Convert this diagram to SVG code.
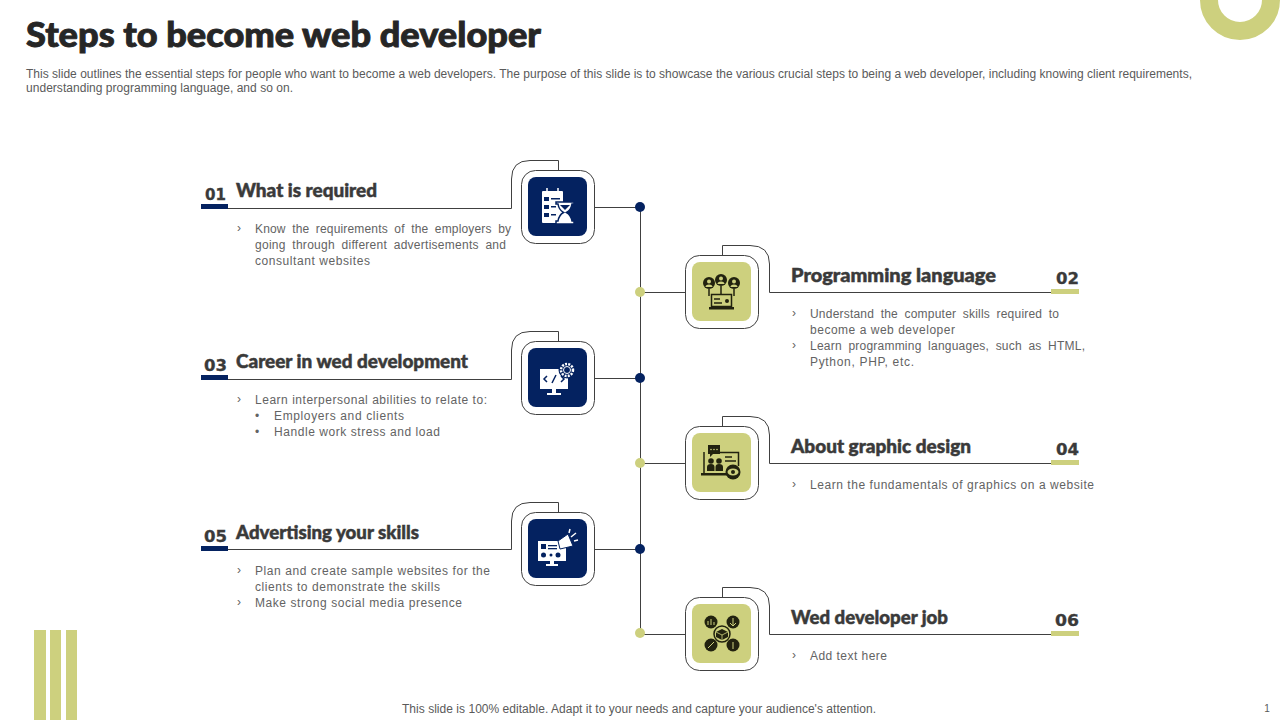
<svg xmlns="http://www.w3.org/2000/svg" width="1280" height="720" viewBox="0 0 1280 720">
<style>
text{font-family:"Liberation Sans",Arial,sans-serif}
.title{font-family:Lato,"Liberation Sans",sans-serif;font-weight:900;font-size:35px;fill:#262626;stroke:#262626;stroke-width:.9px}
.sub{font-size:12px;fill:#5a5a5a}
.h{font-family:Lato,"Liberation Sans",sans-serif;font-weight:900;font-size:19px;fill:#3a3a3a;stroke:#3a3a3a;stroke-width:.5px}
.n{font-family:"DejaVu Sans",sans-serif;font-weight:700;font-size:16px;fill:#3a3a3a;stroke:#3a3a3a;stroke-width:.3px}
.b{font-size:12px;fill:#636363}
.j{word-spacing:3px}
.c{fill:none;stroke:#404040;stroke-width:1}
.o{fill:#fff;stroke:#404040;stroke-width:1}
.navy{fill:#042260}
.olive{fill:#cdd07e}
.w{fill:#fff}
.wl{fill:none;stroke:#fff;stroke-width:1.5}
.d{fill:#22220f}
.dl{fill:none;stroke:#22220f;stroke-width:1.5}
</style>

<g id="decor">
<circle cx="1240" cy="0" r="31" fill="none" stroke="#cdd07e" stroke-width="18"/>
<rect class="olive" x="34" y="630" width="12" height="90"/>
<rect class="olive" x="50" y="630" width="11" height="90"/>
<rect class="olive" x="66" y="630" width="11" height="90"/>
</g>

<g id="header">
<text class="title" x="26" y="47" textLength="515" lengthAdjust="spacingAndGlyphs">Steps to become web developer</text>
<text class="sub" x="26" y="78" textLength="1166">This slide outlines the essential steps for people who want to become a web developers. The purpose of this slide is to showcase the various crucial steps to being a web developer, including knowing client requirements,</text>
<text class="sub" x="26" y="92" textLength="267">understanding programming language, and so on.</text>
</g>

<g id="connectors">
<path class="c" d="M640.500 207V633"/>
<path class="c" d="M558.500 170V160.500H530Q511.500 160.500 511.500 179V208.500H228"/>
<path class="c" d="M595 207.500H640"/>
<path class="c" d="M558.500 341V331.500H530Q511.500 331.500 511.500 350V379.500H228"/>
<path class="c" d="M595 378.500H640"/>
<path class="c" d="M558.500 512V502.500H530Q511.500 502.500 511.500 521V549.500H228"/>
<path class="c" d="M595 549.500H640"/>
<path class="c" d="M722.500 255V245.500H750Q769.500 245.500 769.500 264V292.500H1051"/>
<path class="c" d="M640 292.500H685"/>
<path class="c" d="M722.500 426V416.500H750Q769.500 416.500 769.500 435V463.500H1051"/>
<path class="c" d="M640 463.500H685"/>
<path class="c" d="M722.500 597V587.500H750Q769.500 587.500 769.500 606V634.500H1051"/>
<path class="c" d="M640 634.500H685"/>
<circle class="navy" cx="640" cy="207" r="5"/>
<circle class="olive" cx="640" cy="292" r="5"/>
<circle class="navy" cx="640" cy="378" r="5"/>
<circle class="olive" cx="640" cy="463" r="5"/>
<circle class="navy" cx="640" cy="549" r="5"/>
<circle class="olive" cx="640" cy="633" r="5"/>
</g>

<g id="node-01">
<rect class="navy" x="201" y="204" width="27" height="5"/>
<text class="n" x="205" y="200" textLength="21" lengthAdjust="spacingAndGlyphs">01</text>
<text class="h" x="236" y="197" textLength="141" lengthAdjust="spacingAndGlyphs">What is required</text>
<text class="b" x="237" y="232">›</text>
<text class="b j" x="255" y="233" textLength="256">Know the requirements of the employers by</text>
<text class="b j" x="255" y="249" textLength="251">going through different advertisements and</text>
<text class="b" x="255" y="265" textLength="115">consultant websites</text>
<rect class="o" x="521.500" y="170.500" width="73" height="73" rx="14"/>
<rect class="navy" x="528" y="177" width="59" height="59" rx="8"/>
<g>
<rect class="w" x="542" y="191" width="21" height="32" rx="1"/>
<path class="wl" d="M547 188V195M558 188V195"/>
<g fill="#042260"><rect x="544" y="197" width="5" height="4"/><rect x="544" y="205" width="5" height="4"/><rect x="544" y="213" width="5" height="4"/><rect x="551" y="198" width="9" height="1.500"/><rect x="551" y="206" width="5" height="1.500"/><rect x="551" y="214" width="5" height="1.500"/></g>
<path class="w" stroke="#042260" stroke-width="1.500" d="M556 202H574V204H572Q571 210 566.500 212.500Q571 215 572 221H574V224H556V221H558Q559 215 563.500 212.500Q559 210 558 204H556Z"/>
<path fill="#042260" d="M560 205H570L565 210Z"/>
</g>
</g>

<g id="node-02">
<rect class="olive" x="1051" y="289" width="28" height="5"/>
<text class="n" x="1056" y="284" textLength="23" lengthAdjust="spacingAndGlyphs">02</text>
<text class="h" x="791" y="282" textLength="205" lengthAdjust="spacingAndGlyphs">Programming language</text>
<text class="b" x="792" y="317">›</text>
<text class="b j" x="810" y="318" textLength="249">Understand the computer skills required to</text>
<text class="b" x="810" y="334" textLength="145">become a web developer</text>
<text class="b" x="792" y="349">›</text>
<text class="b j" x="810" y="350" textLength="275">Learn programming languages, such as HTML,</text>
<text class="b" x="810" y="366" textLength="104">Python, PHP, etc.</text>
<rect class="o" x="685.500" y="255.500" width="73" height="73" rx="14"/>
<rect class="olive" x="692" y="262" width="59" height="59" rx="8"/>
<g>
<circle class="d" cx="709" cy="283" r="6"/><circle class="d" cx="721" cy="280" r="6"/><circle class="d" cx="734" cy="283" r="6"/>
<circle class="olive" cx="709" cy="281.500" r="2"/><circle class="olive" cx="721" cy="278.500" r="2"/><circle class="olive" cx="734" cy="281.500" r="2"/>
<path class="olive" d="M705.500 287Q705.500 284.500 709 284.500Q712.500 284.500 712.500 287ZM717.500 284Q717.500 281.500 721 281.500Q724.500 281.500 724.500 284ZM730.500 287Q730.500 284.500 734 284.500Q737.500 284.500 737.500 287Z"/>
<path class="dl" d="M709 289V296M721 286V294M734 289V296"/>
<rect class="dl" x="711.500" y="294.500" width="20" height="12"/>
<path class="dl" stroke-width="1" d="M714 299H720M714 303H722"/>
<circle class="d" cx="727" cy="301" r="2"/>
<rect class="d" x="709" y="307" width="25" height="2.500"/>
</g>
</g>

<g id="node-03">
<rect class="navy" x="201" y="375" width="27" height="5"/>
<text class="n" x="204" y="371" textLength="23" lengthAdjust="spacingAndGlyphs">03</text>
<text class="h" x="236" y="368" textLength="232" lengthAdjust="spacingAndGlyphs">Career in wed development</text>
<text class="b" x="237" y="403">›</text>
<text class="b" x="255" y="404" textLength="232">Learn interpersonal abilities to relate to:</text>
<text class="b" x="255" y="420">•</text>
<text class="b" x="274" y="420" textLength="130">Employers and clients</text>
<text class="b" x="255" y="436">•</text>
<text class="b" x="274" y="436" textLength="166">Handle work stress and load</text>
<rect class="o" x="521.500" y="341.500" width="73" height="73" rx="14"/>
<rect class="navy" x="528" y="348" width="59" height="59" rx="8"/>
<g>
<rect class="w" x="540" y="369" width="28" height="20"/>
<path class="w" d="M552 389H556V393H561V395H547V393H552Z"/>
<path fill="none" stroke="#042260" stroke-width="1.500" d="M547 376L544 379L547 382M561 376L564 379L561 382M556 375L552 383"/>
<circle fill="#042260" cx="567" cy="370" r="8.500"/>
<circle cx="567" cy="370" r="6" fill="none" stroke="#fff" stroke-width="2.500" stroke-dasharray="2 1.200"/>
<circle cx="567" cy="370" r="3.500" fill="none" stroke="#fff" stroke-width="1"/>
</g>
</g>

<g id="node-04">
<rect class="olive" x="1051" y="460" width="28" height="5"/>
<text class="n" x="1056" y="455" textLength="23" lengthAdjust="spacingAndGlyphs">04</text>
<text class="h" x="791" y="453" textLength="180" lengthAdjust="spacingAndGlyphs">About graphic design</text>
<text class="b" x="792" y="488">›</text>
<text class="b" x="810" y="489" textLength="284">Learn the fundamentals of graphics on a website</text>
<rect class="o" x="685.500" y="426.500" width="73" height="73" rx="14"/>
<rect class="olive" x="692" y="433" width="59" height="59" rx="8"/>
<g>
<path class="dl" d="M704 452V474M718 452.500H738.500V466"/>
<path class="d" d="M708 445H720V454H713L710 457V454H708Z"/>
<circle class="olive" cx="711" cy="449.500" r="0.800"/><circle class="olive" cx="714" cy="449.500" r="0.800"/><circle class="olive" cx="717" cy="449.500" r="0.800"/>
<circle class="d" cx="711" cy="461" r="2.800"/><circle class="d" cx="719" cy="461" r="2.800"/>
<path class="d" d="M707 471V467Q707 464 711 464Q714.500 464 714.500 467V471ZM715.500 471V467Q715.500 464 719 464Q723 464 723 467V471Z"/>
<path class="dl" stroke-width="1" d="M725 457H732M725 461H736"/>
<rect class="d" x="701" y="473" width="27" height="2.500"/>
<circle class="d" cx="733" cy="472" r="7.500"/>
<ellipse cx="733" cy="472" rx="5.500" ry="3.500" fill="#cdd07e"/>
<circle class="d" cx="733" cy="472" r="2"/>
</g>
</g>

<g id="node-05">
<rect class="navy" x="201" y="546" width="27" height="5"/>
<text class="n" x="204" y="542" textLength="23" lengthAdjust="spacingAndGlyphs">05</text>
<text class="h" x="236" y="539" textLength="183" lengthAdjust="spacingAndGlyphs">Advertising your skills</text>
<text class="b" x="237" y="574">›</text>
<text class="b" x="255" y="575" textLength="235">Plan and create sample websites for the</text>
<text class="b" x="255" y="591" textLength="185">clients to demonstrate the skills</text>
<text class="b" x="237" y="606">›</text>
<text class="b" x="255" y="607" textLength="207">Make strong social media presence</text>
<rect class="o" x="521.500" y="512.500" width="73" height="73" rx="14"/>
<rect class="navy" x="528" y="519" width="59" height="59" rx="8"/>
<g>
<rect class="w" x="538" y="541" width="28" height="20"/>
<path class="w" d="M550 561H554V564H558V566H546V564H550Z"/>
<g fill="#042260"><rect x="541" y="544" width="5" height="5"/><rect x="548" y="545" width="9" height="1.300"/><rect x="548" y="548" width="9" height="1.300"/><circle cx="543.500" cy="555" r="2.500"/><circle cx="551" cy="555" r="1.500"/><circle cx="558" cy="555" r="2.500"/></g>
<path class="w" stroke="#042260" d="M558 541L568 534L573 546L560 549Z"/>
<path class="wl" stroke-width="1" d="M571 537L576 533M574 541L578 540M569 533L570 529"/>
</g>
</g>

<g id="node-06">
<rect class="olive" x="1051" y="631" width="28" height="5"/>
<text class="n" x="1055" y="626" textLength="24" lengthAdjust="spacingAndGlyphs">06</text>
<text class="h" x="791" y="624" textLength="157" lengthAdjust="spacingAndGlyphs">Wed developer job</text>
<text class="b" x="792" y="659">›</text>
<text class="b" x="810" y="660" textLength="77">Add text here</text>
<rect class="o" x="685.500" y="597.500" width="73" height="73" rx="14"/>
<rect class="olive" x="692" y="604" width="59" height="59" rx="8"/>
<g>
<circle class="d" cx="711" cy="622" r="6.500"/><circle class="d" cx="733" cy="622" r="6.500"/><circle class="d" cx="711" cy="645" r="6.500"/><circle class="d" cx="733" cy="645" r="6.500"/>
<circle class="dl" stroke-width="1" cx="722" cy="634" r="8"/>
<path class="d" d="M722 629L728 632V637L722 640L716 637V632Z"/>
<path fill="none" stroke="#cdd07e" stroke-width="1" d="M708 625V621M711 625V619M714 625V622M733 618V625M730 623L733 626L736 623M708 648L714 642M733 642V649"/>
<path fill="none" stroke="#cdd07e" stroke-width="0.800" d="M716 632L722 635L728 632M722 635V640"/>
</g>
</g>

<g id="footer">
<text class="sub" x="402" y="713" textLength="474">This slide is 100% editable. Adapt it to your needs and capture your audience's attention.</text>
<text x="1267" y="712" font-size="10" fill="#595959" text-anchor="middle">1</text>
</g>
</svg>
